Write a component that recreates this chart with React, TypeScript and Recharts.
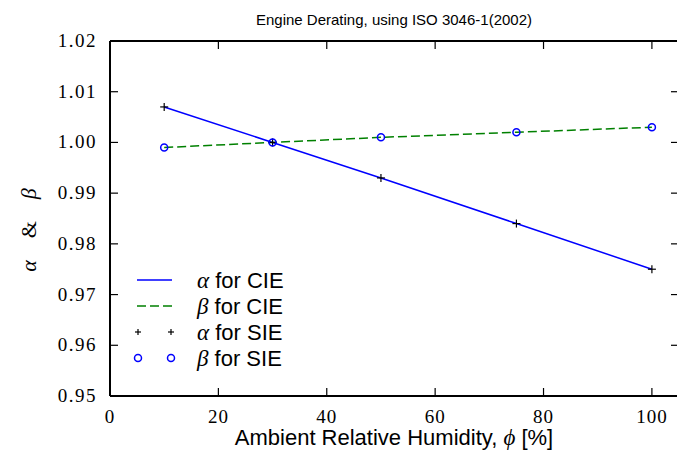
import React from "react";
import {
  ComposedChart,
  Line,
  XAxis,
  YAxis,
  Legend,
} from "recharts";

// relative humidity [%] where the derating factors were evaluated
const humidity = [10, 30, 50, 75, 100];
const alphaCIE = [1.007, 1.0, 0.993, 0.984, 0.975];
const betaCIE = [0.999, 1.0, 1.001, 1.002, 1.003];
const alphaSIE = [1.007, 1.0, 0.993, 0.984, 0.975];
const betaSIE = [0.999, 1.0, 1.001, 1.002, 1.003];

const xTicks = [0, 20, 40, 60, 80, 100];
const yTicks = [0.95, 0.96, 0.97, 0.98, 0.99, 1.0, 1.01, 1.02];

const legendItems = [
  { sym: "α", text: " for CIE", kind: "line" },
  { sym: "β", text: " for CIE", kind: "dash" },
  { sym: "α", text: " for SIE", kind: "plus" },
  { sym: "β", text: " for SIE", kind: "circle" },
];

const data = humidity.map((h, i) => ({
  x: h,
  alphaCIE: alphaCIE[i],
  betaCIE: betaCIE[i],
  alphaSIE: alphaSIE[i],
  betaSIE: betaSIE[i],
}));

const W = 677;
const H = 464;
const SERIF = "'Liberation Serif', 'DejaVu Serif', serif";
const SANS = "'Liberation Sans', Arial, sans-serif";
const TICK = 8;

const BottomTick = (props: any) => {
  const { x, y, payload } = props;
  return (
    <g>
      <line x1={x} x2={x} y1={y} y2={y - TICK} stroke="#000" strokeWidth={1.2} />
      <text x={x} y={y + 27} textAnchor="middle" fontFamily={SERIF} fontSize={19} letterSpacing={1} fill="#000">
        {payload.value}
      </text>
    </g>
  );
};

const TopTick = (props: any) => {
  const { x, y } = props;
  return <line x1={x} x2={x} y1={y} y2={y + TICK} stroke="#000" strokeWidth={1.2} />;
};

const LeftTick = (props: any) => {
  const { x, y, payload } = props;
  return (
    <g>
      <line x1={x} x2={x + TICK} y1={y} y2={y} stroke="#000" strokeWidth={1.2} />
      <text x={x - 13} y={y + 6} textAnchor="end" fontFamily={SERIF} fontSize={19} letterSpacing={1.5} fill="#000">
        {payload.value.toFixed(2)}
      </text>
    </g>
  );
};

const RightTick = (props: any) => {
  const { x, y } = props;
  return <line x1={x} x2={x - TICK} y1={y} y2={y} stroke="#000" strokeWidth={1.2} />;
};

const plusDot = (props: any) => {
  const { cx, cy, index } = props;
  return (
    <g key={"p" + index}>
      <line x1={cx - 4} x2={cx + 4} y1={cy} y2={cy} stroke="#000" strokeWidth={1.2} />
      <line x1={cx} x2={cx} y1={cy - 4} y2={cy + 4} stroke="#000" strokeWidth={1.2} />
    </g>
  );
};

const circleDot = (props: any) => {
  const { cx, cy, index } = props;
  return <circle key={"c" + index} cx={cx} cy={cy} r={3.5} fill="none" stroke="#0000ff" strokeWidth={1.5} />;
};

const LegendBox = () => (
  <svg width={200} height={110} style={{ display: "block" }}>
    {legendItems.map((item, i) => {
      const y = 12 + i * 26;
      return (
        <g key={i}>
          {item.kind === "line" && <line x1={7} x2={42} y1={y} y2={y} stroke="#0000ff" strokeWidth={1.5} />}
          {item.kind === "dash" && (
            <line x1={7} x2={42} y1={y} y2={y} stroke="#008000" strokeWidth={1.5} strokeDasharray="9 4" />
          )}
          {item.kind === "plus" &&
            [8, 41].map((cx) => (
              <g key={cx}>
                <line x1={cx - 3} x2={cx + 3} y1={y} y2={y} stroke="#000" strokeWidth={1.2} />
                <line x1={cx} x2={cx} y1={y - 3} y2={y + 3} stroke="#000" strokeWidth={1.2} />
              </g>
            ))}
          {item.kind === "circle" &&
            [8, 41].map((cx) => (
              <circle key={cx} cx={cx} cy={y} r={3.5} fill="none" stroke="#0000ff" strokeWidth={1.5} />
            ))}
          <text x={67} y={y + 8} fontFamily={SANS} fontSize={22} fill="#000">
            <tspan fontFamily={SERIF} fontStyle="italic" fontSize={23}>
              {item.sym}
            </tspan>
            {item.text}
          </text>
        </g>
      );
    })}
  </svg>
);

export default function App() {
  return (
    <div style={{ position: "absolute", left: 0, top: 0, width: W, height: H, background: "#fff", overflow: "hidden" }}>
      <ComposedChart width={W} height={H} data={data} margin={{ top: 40, right: -3, bottom: 67, left: 109 }}>
        <XAxis
          type="number"
          dataKey="x"
          domain={[0, 105]}
          ticks={xTicks}
          allowDataOverflow
          height={1}
          tickSize={0}
          tickMargin={0}
          tick={<BottomTick />}
          axisLine={{ stroke: "#000", strokeWidth: 2 }}
          tickLine={false}
        />
        <XAxis
          xAxisId="top"
          orientation="top"
          type="number"
          dataKey="x"
          domain={[0, 105]}
          ticks={xTicks}
          allowDataOverflow
          height={1}
          tickSize={0}
          tickMargin={0}
          tick={<TopTick />}
          axisLine={{ stroke: "#000", strokeWidth: 2 }}
          tickLine={false}
        />
        <YAxis
          type="number"
          domain={[0.95, 1.02]}
          ticks={yTicks}
          allowDataOverflow
          width={1}
          tickSize={0}
          tickMargin={0}
          tick={<LeftTick />}
          axisLine={{ stroke: "#000", strokeWidth: 2 }}
          tickLine={false}
        />
        <YAxis
          yAxisId="right"
          orientation="right"
          type="number"
          domain={[0.95, 1.02]}
          ticks={yTicks}
          allowDataOverflow
          width={1}
          tickSize={0}
          tickMargin={0}
          tick={<RightTick />}
          axisLine={{ stroke: "#000", strokeWidth: 2 }}
          tickLine={false}
        />
        <Legend
          layout="horizontal"
          verticalAlign="middle"
          align="center"
          wrapperStyle={{ position: "absolute", left: 130, top: 268, width: 200 }}
          content={() => <LegendBox />}
        />
        <Line dataKey="alphaCIE" stroke="#0000ff" strokeWidth={1.5} dot={false} activeDot={false} isAnimationActive={false} />
        <Line
          dataKey="betaCIE"
          stroke="#008000"
          strokeWidth={1.5}
          strokeDasharray="9 4"
          dot={false}
          activeDot={false}
          isAnimationActive={false}
        />
        <Line dataKey="alphaSIE" stroke="none" dot={plusDot} activeDot={false} isAnimationActive={false} />
        <Line dataKey="betaSIE" stroke="none" dot={circleDot} activeDot={false} isAnimationActive={false} />
      </ComposedChart>
      <svg width={W} height={H} style={{ position: "absolute", left: 0, top: 0, pointerEvents: "none" }}>
        <text x={394} y={25} textAnchor="middle" fontFamily={SANS} fontSize={15} fill="#000">
          Engine Derating, using ISO 3046-1(2002)
        </text>
        <text x={394} y={445} textAnchor="middle" fontFamily={SANS} fontSize={22} fill="#000">
          Ambient Relative Humidity,{" "}
          <tspan fontFamily={SERIF} fontStyle="italic" fontSize={23}>
            ϕ
          </tspan>{" "}
          [%]
        </text>
        <text
          x={36}
          y={230}
          textAnchor="middle"
          transform="rotate(-90 36 230)"
          fontFamily={SERIF}
          fontSize={22}
          fill="#000"
        >
          <tspan fontStyle="italic">α</tspan>
          {"\u2003&\u2003"}
          <tspan fontStyle="italic">β</tspan>
        </text>
      </svg>
    </div>
  );
}
